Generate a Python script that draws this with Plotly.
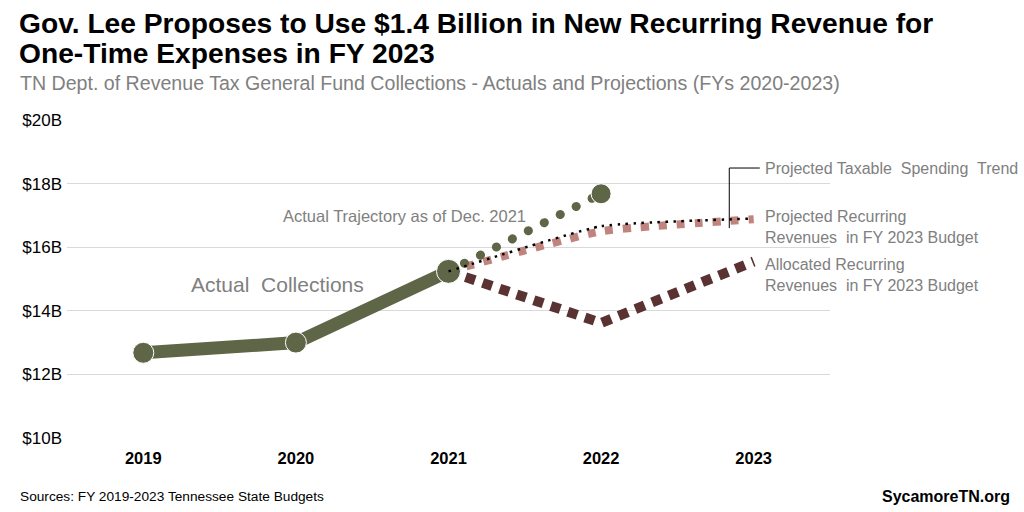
import plotly.graph_objects as go

# ---- data ----
years = [2019, 2020, 2021, 2022, 2023]
actual_years = [2019, 2020, 2021]
actual_vals = [12.68, 13.0, 15.24]
trajectory_years = [2021, 2022]
trajectory_vals = [15.24, 17.68]
taxable_trend_years = [2021, 2022, 2023]
taxable_trend_vals = [15.24, 16.66, 16.9]
projected_rec_years = [2021, 2022, 2023]
projected_rec_vals = [15.24, 16.5, 16.88]
allocated_rec_years = [2021, 2022, 2023]
allocated_rec_vals = [15.24, 13.62, 15.55]
y_ticks = [10, 12, 14, 16, 18, 20]
y_tick_labels = ["$10B", "$12B", "$14B", "$16B", "$18B", "$20B"]
x_tick_labels = ["2019", "2020", "2021", "2022", "2023"]

GREEN = "#5f6647"
BROWN = "#5a3232"
PINK = "#c0847e"
GRAY = "#808080"
FONT = "Liberation Sans, Arial, sans-serif"

# plot area in pixels (for placing page-level texts in paper units)
L, R, T, B = 67, 830, 120, 438


def px(x):
    return (x - L) / (R - L)


def py(y):
    return (B - y) / (B - T)


fig = go.Figure()

fig.add_trace(go.Scatter(
    x=projected_rec_years, y=projected_rec_vals, mode="lines",
    line=dict(color=PINK, width=8, dash="8px,10px", shape="spline", smoothing=0.4),
    hoverinfo="skip", showlegend=False))
fig.add_trace(go.Scatter(
    x=allocated_rec_years, y=allocated_rec_vals, mode="lines",
    line=dict(color=BROWN, width=10, dash="10px,8px"),
    hoverinfo="skip", showlegend=False))
fig.add_trace(go.Scatter(
    x=trajectory_years, y=trajectory_vals, mode="lines+markers",
    line=dict(color=GREEN, width=9, dash="9px,9px"),
    marker=dict(color=GREEN, size=[0, 20], opacity=1),
    hoverinfo="skip", showlegend=False))
fig.add_trace(go.Scatter(
    x=actual_years, y=actual_vals, mode="lines+markers",
    line=dict(color=GREEN, width=13),
    marker=dict(color=GREEN, size=[21, 21, 24], opacity=1),
    hoverinfo="skip", showlegend=False))
fig.add_trace(go.Scatter(
    x=taxable_trend_years, y=taxable_trend_vals, mode="lines",
    line=dict(color="#000000", width=2.5, dash="2.5px,5.5px", shape="spline", smoothing=0.4),
    hoverinfo="skip", showlegend=False))

# leader line for the taxable spending trend label
fig.add_shape(type="line", xref="x", yref="y", x0=2022.84, x1=2022.84, y0=16.6, y1=18.49,
              line=dict(color="#000000", width=1))
fig.add_shape(type="line", xref="x", yref="y", x0=2022.84, x1=2023.04, y0=18.49, y1=18.49,
              line=dict(color="#000000", width=1))

ann_font = dict(family=FONT, size=16, color=GRAY)
fig.add_annotation(x=2019.88, y=14.84, xref="x", yref="y", text="Actual  Collections",
                   showarrow=False, font=dict(family=FONT, size=21, color=GRAY))
fig.add_annotation(x=2021.52, y=16.98, xref="x", yref="y", xanchor="right",
                   text="Actual Trajectory as of Dec. 2021", showarrow=False,
                   font=dict(family=FONT, size=16.5, color=GRAY))
fig.add_annotation(x=2023.06, y=18.49, xref="x", yref="y", xanchor="left", align="left",
                   text="Projected Taxable  Spending  Trend", showarrow=False, font=ann_font)
fig.add_annotation(x=2023.06, y=16.64, xref="x", yref="y", xanchor="left", align="left",
                   text="Projected Recurring<br>Revenues  in FY 2023 Budget", showarrow=False, font=ann_font)
fig.add_annotation(x=2023.06, y=15.13, xref="x", yref="y", xanchor="left", align="left",
                   text="Allocated Recurring<br>Revenues  in FY 2023 Budget", showarrow=False, font=ann_font)

# title, subtitle and footer (paper units computed from pixel positions)
title_font = dict(family=FONT, size=28.2, color="#000000")
fig.add_annotation(x=px(17), y=py(23), xref="paper", yref="paper", showarrow=False,
                   xanchor="left", yanchor="middle", align="left",
                   text="<b>Gov. Lee Proposes to Use $1.4 Billion in New Recurring Revenue for</b>",
                   font=title_font)
fig.add_annotation(x=px(17), y=py(53), xref="paper", yref="paper", showarrow=False,
                   xanchor="left", yanchor="middle", align="left",
                   text="<b>One-Time Expenses in FY 2023</b>",
                   font=title_font)
fig.add_annotation(x=px(18), y=py(83), xref="paper", yref="paper", showarrow=False,
                   xanchor="left", yanchor="middle",
                   text="TN Dept. of Revenue Tax General Fund Collections - Actuals and Projections (FYs 2020-2023)",
                   font=dict(family=FONT, size=19.6, color=GRAY))
fig.add_annotation(x=px(18), y=py(496), xref="paper", yref="paper", showarrow=False,
                   xanchor="left", yanchor="middle",
                   text="Sources: FY 2019-2023 Tennessee State Budgets",
                   font=dict(family=FONT, size=13.7, color="#000000"))
fig.add_annotation(x=px(1012), y=py(496), xref="paper", yref="paper", showarrow=False,
                   xanchor="right", yanchor="middle",
                   text="<b>SycamoreTN.org</b>",
                   font=dict(family=FONT, size=16, color="#000000"))

fig.update_layout(
    width=1024, height=512,
    margin=dict(l=L, r=1024 - R, t=T, b=512 - B),
    paper_bgcolor="white", plot_bgcolor="white",
    font=dict(family=FONT),
    xaxis=dict(range=[2018.5, 2023.5], tickvals=years, ticktext=x_tick_labels,
               showgrid=False, zeroline=False, showline=False,
               tickfont=dict(family=FONT, size=16.5, color="#000000", weight="bold"),
               ticklabelstandoff=8, fixedrange=True),
    yaxis=dict(range=[10, 20], tickvals=y_ticks, ticktext=y_tick_labels,
               showgrid=True, gridcolor="#d9d9d9", gridwidth=1, zeroline=False,
               tickfont=dict(family=FONT, size=17, color="#000000"),
               ticklabelstandoff=4, fixedrange=True),
)

post = """
var gd = document.getElementById('{plot_id}');
var traces = gd.querySelectorAll('.scatterlayer .trace');
if (traces.length > 2) {
  traces[2].querySelectorAll('path.js-line').forEach(function(p){
    p.style.strokeLinecap = 'round';
    p.style.strokeDasharray = '0.1px,17.8px';
  });
}
"""

fig.write_html("out.html", post_script=post, config={"displayModeBar": False})
